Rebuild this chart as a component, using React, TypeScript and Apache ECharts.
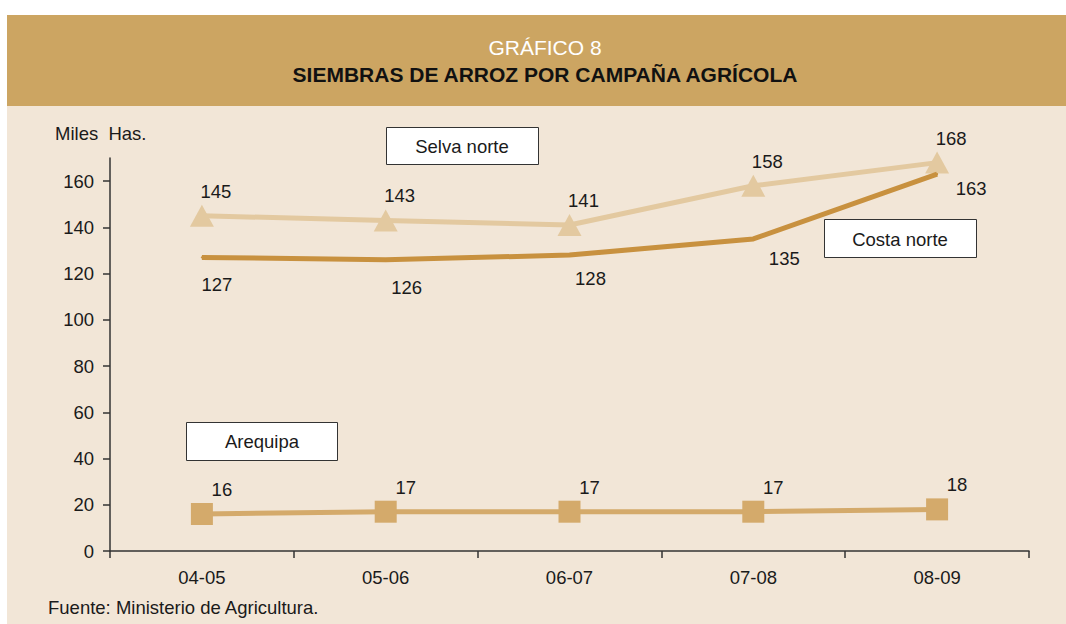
import React, { useEffect, useRef } from "react";
import * as echarts from "echarts";

const categories = ["04-05", "05-06", "06-07", "07-08", "08-09"];
const selvaNorte = [145, 143, 141, 158, 168];
const costaNorte = [127, 126, 128, 135, 163];
const arequipa = [16, 17, 17, 17, 18];
const yTicks = [0, 20, 40, 60, 80, 100, 120, 140, 160];

const costaLabelOffsets = [
  [15, 12],
  [21, 12],
  [21, 8],
  [31, 4],
  [34, -1],
];

const FONT = "'Liberation Sans', Arial, sans-serif";
const TEXT = "#1a1a1a";
const FS = 18.5;

export default function App() {
  const ref = useRef<HTMLDivElement>(null);
  useEffect(() => {
    document.body.style.margin = "0";
    const chart = echarts.init(ref.current!, undefined, { renderer: "svg" });
    const labelBase = { show: true, fontSize: FS, color: TEXT, fontFamily: FONT };
    chart.setOption({
      animation: false,
      backgroundColor: "#ffffff",
      textStyle: { fontFamily: FONT },
      graphic: [
        { type: "rect", left: 7, top: 15, z: -10, shape: { width: 1059, height: 91 }, style: { fill: "#cca562" } },
        { type: "rect", left: 7, top: 106, z: -10, shape: { width: 1059, height: 518 }, style: { fill: "#f2e6d7" } },
        { type: "text", x: 545, y: 47, style: { text: "GRÁFICO 8", fill: "#ffffff", font: `21px ${FONT}`, align: "center", verticalAlign: "middle" } },
        { type: "text", x: 545, y: 74, style: { text: "SIEMBRAS DE ARROZ POR CAMPAÑA AGRÍCOLA", fill: "#111", font: `bold 21px ${FONT}`, align: "center", verticalAlign: "middle" } },
        { type: "text", x: 55, y: 133, style: { text: "Miles  Has.", fill: TEXT, font: `${FS}px ${FONT}`, verticalAlign: "middle" } },
        { type: "text", x: 48, y: 607, style: { text: "Fuente: Ministerio de Agricultura.", fill: TEXT, font: `${FS}px ${FONT}`, verticalAlign: "middle" } },
        { type: "rect", x: 386.5, y: 127.5, z: 10, shape: { width: 152, height: 37 }, style: { fill: "#fff", stroke: "#333", lineWidth: 1 } },
        { type: "text", x: 462, y: 146, z: 11, style: { text: "Selva norte", fill: TEXT, font: `${FS}px ${FONT}`, align: "center", verticalAlign: "middle" } },
        { type: "rect", x: 824.5, y: 219.5, z: 10, shape: { width: 152, height: 38 }, style: { fill: "#fff", stroke: "#333", lineWidth: 1 } },
        { type: "text", x: 900, y: 239, z: 11, style: { text: "Costa norte", fill: TEXT, font: `${FS}px ${FONT}`, align: "center", verticalAlign: "middle" } },
        { type: "rect", x: 186.5, y: 422.5, z: 10, shape: { width: 151, height: 38 }, style: { fill: "#fff", stroke: "#333", lineWidth: 1 } },
        { type: "text", x: 262, y: 441, z: 11, style: { text: "Arequipa", fill: TEXT, font: `${FS}px ${FONT}`, align: "center", verticalAlign: "middle" } },
      ],
      grid: { left: 110, right: 37, top: 158, bottom: 73, containLabel: false },
      xAxis: {
        type: "category",
        data: categories,
        boundaryGap: true,
        axisLine: { lineStyle: { color: "#333", width: 1.5 } },
        axisTick: { show: true, length: 7, lineStyle: { color: "#333", width: 1.5 } },
        axisLabel: { fontSize: FS, color: TEXT, margin: 17, fontFamily: FONT },
        splitLine: { show: false },
      },
      yAxis: {
        type: "value",
        min: 0,
        max: 170,
        interval: 10,
        axisLine: { show: true, lineStyle: { color: "#333", width: 1.5 } },
        axisTick: { show: true, length: 7, customValues: yTicks, lineStyle: { color: "#333", width: 1.5 } },
        axisLabel: { fontSize: FS, color: TEXT, margin: 16, fontFamily: FONT, customValues: yTicks },
        splitLine: { show: false },
      },
      series: [
        {
          name: "Selva norte",
          type: "line",
          data: selvaNorte,
          symbol: "triangle",
          symbolSize: [24, 22],
          lineStyle: { color: "#e3c9a0", width: 5 },
          itemStyle: { color: "#e3c9a0" },
          label: { ...labelBase, position: "top", offset: [14, 1] },
          z: 3,
        },
        {
          name: "Costa norte",
          type: "line",
          data: costaNorte.map((v, i) => ({
            value: v,
            label: { offset: costaLabelOffsets[i] },
          })),
          symbol: "circle",
          symbolSize: 2,
          lineStyle: { color: "#c8913f", width: 5 },
          itemStyle: { color: "#c8913f" },
          label: { ...labelBase, position: "bottom" },
          z: 4,
        },
        {
          name: "Arequipa",
          type: "line",
          data: arequipa,
          symbol: "rect",
          symbolSize: 22,
          lineStyle: { color: "#d4aa6b", width: 5 },
          itemStyle: { color: "#d4aa6b" },
          label: { ...labelBase, position: "top", offset: [20, 1] },
          z: 3,
        },
      ],
    });
    return () => chart.dispose();
  }, []);
  return <div ref={ref} style={{ width: 1066, height: 624 }} />;
}
